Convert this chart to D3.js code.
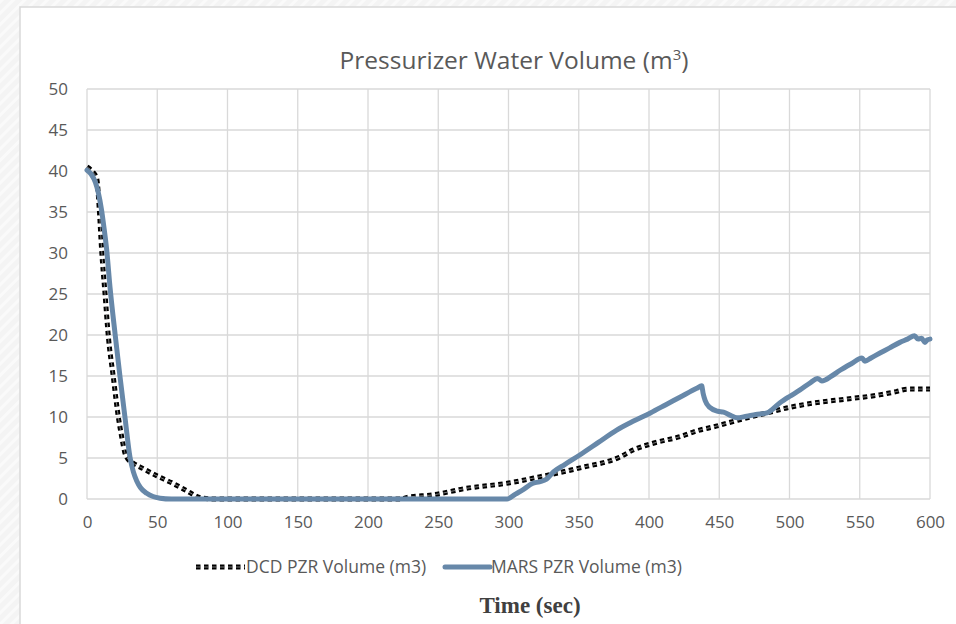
<!DOCTYPE html>
<html>
<head>
<meta charset="utf-8">
<script src="https://cdn.jsdelivr.net/npm/d3@7"></script>
<style>
  body { margin: 0; background: #f3f3f3; }
  svg { display: block; }
</style>
</head>
<body>
<svg id="chart" width="956" height="624"></svg>
<script>
// time axis ticks / value axis ticks
const xTicks = [0, 50, 100, 150, 200, 250, 300, 350, 400, 450, 500, 550, 600]
const yTicks = [0, 5, 10, 15, 20, 25, 30, 35, 40, 45, 50]

// DCD PZR Volume (m3)
const dcdTime = [0, 3, 5, 6.9, 8.8, 10.4, 12.8, 15.2, 18.7, 22.3, 25, 27, 29, 31.8, 40, 50, 60, 70, 80, 90, 150, 224, 228, 246, 270, 300, 322, 351, 379, 389, 403, 422, 436, 446, 463, 484, 498, 517, 541, 564, 576, 584, 600]
const dcdVol = [40.5, 40.1, 39.7, 39.1, 35.2, 30.4, 25.1, 19.8, 14.9, 10, 7.3, 5.6, 4.9, 4.5, 3.7, 2.8, 2.0, 1.1, 0.2, 0, 0, 0, 0.2, 0.5, 1.3, 1.95, 2.7, 3.8, 5.1, 6.0, 6.8, 7.6, 8.4, 8.8, 9.6, 10.5, 11.1, 11.7, 12.2, 12.7, 13.1, 13.4, 13.4]

// MARS PZR Volume (m3)
const marsTime = [0, 3, 6, 8, 10.4, 12, 14, 16.4, 20, 23.5, 27, 30.6, 33, 35.4, 38, 42.5, 47, 52, 60, 100, 200, 299, 305, 311, 317, 322, 327, 332, 340, 351, 364, 377, 389, 401, 412, 424, 434, 437.5, 438.5, 440, 443, 449, 453, 458, 462.6, 469.5, 476, 484, 493, 500, 507.5, 515, 520, 523, 530, 536, 544, 551.6, 553.7, 558, 564.4, 571, 578.6, 584, 589, 591.5, 594, 596.4, 598, 600]
const marsVol = [40.1, 39.6, 38.6, 37.4, 35.2, 33.2, 30.4, 25.8, 20.1, 14.9, 10, 5.1, 3.3, 2.2, 1.4, 0.7, 0.3, 0.1, 0, 0, 0, 0, 0.6, 1.2, 1.9, 2.1, 2.4, 3.3, 4.2, 5.4, 6.9, 8.4, 9.5, 10.5, 11.5, 12.6, 13.5, 13.8, 12.9, 12.0, 11.2, 10.7, 10.6, 10.2, 9.9, 10.1, 10.3, 10.5, 11.7, 12.5, 13.3, 14.2, 14.7, 14.4, 15.0, 15.7, 16.5, 17.2, 16.8, 17.2, 17.8, 18.4, 19.1, 19.5, 19.9, 19.5, 19.6, 19.1, 19.4, 19.5]

const svg = d3.select('#chart')
const font = "'Open Sans', 'Noto Sans', sans-serif"
const blue = '#6788a9'

// hatched background behind the chart card
const defs = svg.append('defs')
const pat = defs.append('pattern')
  .attr('id', 'hatch')
  .attr('width', 8).attr('height', 8)
  .attr('patternUnits', 'userSpaceOnUse')
  .attr('patternTransform', 'rotate(45)')
pat.append('rect').attr('width', 8).attr('height', 8).attr('fill', '#f4f4f4')
pat.append('rect').attr('width', 3).attr('height', 8).attr('fill', '#fafafa')
svg.append('rect').attr('width', 956).attr('height', 624).attr('fill', 'url(#hatch)')

// chart card
svg.append('rect')
  .attr('x', 20).attr('y', 7)
  .attr('width', 960).attr('height', 640)
  .attr('fill', '#fff')
  .attr('stroke', '#d9d9d9')
  .attr('stroke-width', 1.5)

const plot = { left: 87, right: 930, top: 89, bottom: 499 }

const x = d3.scaleLinear().domain([0, 600]).range([plot.left, plot.right])
const y = d3.scaleLinear().domain([0, 50]).range([plot.bottom, plot.top])

// gridlines
svg.append('g')
  .selectAll('line.h')
  .data(yTicks)
  .enter()
  .append('line')
  .attr('x1', plot.left).attr('x2', plot.right)
  .attr('y1', d => y(d)).attr('y2', d => y(d))
  .attr('stroke', '#d9d9d9').attr('stroke-width', 1.3)

svg.append('g')
  .selectAll('line.v')
  .data(xTicks)
  .enter()
  .append('line')
  .attr('x1', d => x(d)).attr('x2', d => x(d))
  .attr('y1', plot.top).attr('y2', plot.bottom)
  .attr('stroke', '#d9d9d9').attr('stroke-width', 1.3)

// axes (labels only)
const yAxis = d3.axisLeft(y).tickValues(yTicks).tickSize(0).tickPadding(19)
svg.append('g')
  .attr('transform', `translate(${plot.left},0)`)
  .call(yAxis)
  .call(g => g.select('.domain').remove())
  .selectAll('text')
  .attr('font-family', font).attr('font-size', 17).attr('fill', '#595959')

const xAxis = d3.axisBottom(x).tickValues(xTicks).tickSize(0).tickPadding(17)
svg.append('g')
  .attr('transform', `translate(0,${plot.bottom})`)
  .call(xAxis)
  .call(g => g.select('.domain').remove())
  .selectAll('text')
  .attr('font-family', font).attr('font-size', 17).attr('fill', '#595959')

const line = d3.line()
  .x(d => x(d[0]))
  .y(d => y(d[1]))
  .curve(d3.curveMonotoneX)

const dcd = dcdTime.map((t, i) => [t, dcdVol[i]])
const mars = marsTime.map((t, i) => [t, marsVol[i]])

// DCD: black square-dot line with a thin light core
svg.append('path')
  .datum(dcd)
  .attr('d', line)
  .attr('fill', 'none')
  .attr('stroke', '#000')
  .attr('stroke-width', 5)
  .attr('stroke-dasharray', '4.5,3.5')
svg.append('path')
  .datum(dcd)
  .attr('d', line)
  .attr('fill', 'none')
  .attr('stroke', '#999')
  .attr('stroke-width', 0.8)
  .attr('stroke-dasharray', '4.5,3.5')

// MARS: solid steel blue
svg.append('path')
  .datum(mars)
  .attr('d', line)
  .attr('fill', 'none')
  .attr('stroke', blue)
  .attr('stroke-width', 5)
  .attr('stroke-linejoin', 'round')
  .attr('stroke-linecap', 'round')

// title
const title = svg.append('text')
  .attr('x', 514).attr('y', 69)
  .attr('text-anchor', 'middle')
  .attr('font-family', font).attr('font-size', 24.5).attr('fill', '#595959')
title.append('tspan').text('Pressurizer Water Volume (m')
title.append('tspan').attr('font-size', 15).attr('dy', -9).text('3')
title.append('tspan').attr('dy', 9).text(')')

// legend
const legend = svg.append('g').attr('transform', 'translate(0,567)')
legend.append('line')
  .attr('x1', 196).attr('x2', 245)
  .attr('stroke', '#000').attr('stroke-width', 5)
  .attr('stroke-dasharray', '4.5,3.5')
legend.append('line')
  .attr('x1', 196).attr('x2', 245)
  .attr('stroke', '#999').attr('stroke-width', 0.8)
  .attr('stroke-dasharray', '4.5,3.5')
legend.append('text')
  .attr('x', 246).attr('y', 6)
  .attr('font-family', font).attr('font-size', 17.5).attr('fill', '#595959')
  .text('DCD PZR Volume (m3)')
legend.append('line')
  .attr('x1', 445).attr('x2', 490)
  .attr('stroke', blue).attr('stroke-width', 5)
  .attr('stroke-linecap', 'round')
legend.append('text')
  .attr('x', 491).attr('y', 6)
  .attr('font-family', font).attr('font-size', 17.5).attr('fill', '#595959')
  .text('MARS PZR Volume (m3)')

// x axis title
svg.append('text')
  .attr('x', 530).attr('y', 613)
  .attr('text-anchor', 'middle')
  .attr('font-family', "'Liberation Serif', 'DejaVu Serif', serif")
  .attr('font-weight', 'bold')
  .attr('font-size', 23).attr('fill', '#404040')
  .text('Time (sec)')
</script>
</body>
</html>
